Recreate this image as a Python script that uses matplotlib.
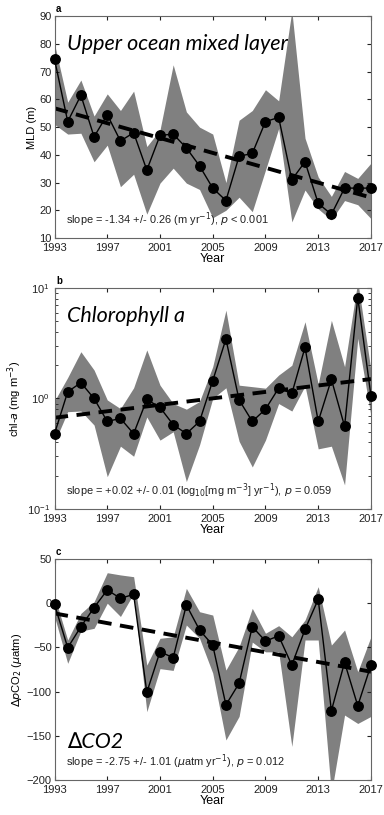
import numpy as np
import matplotlib
matplotlib.use("Agg")
import matplotlib.pyplot as plt

plt.rcParams['font.family'] = ['Liberation Sans', 'DejaVu Sans']

years = list(range(1993, 2018))
xticks = [1993, 1997, 2001, 2005, 2009, 2013, 2017]

# a: mixed layer depth (m)
mld = [74.5, 52, 61.5, 46.5, 54.5, 45, 48, 34.5, 47, 47.5, 42.5, 36, 28,
       23.5, 39.5, 40.5, 52, 53.5, 31, 37.5, 22.5, 18.5, 28, 28, 28]
mld_hi = [80, 59, 67, 54, 62, 56, 63, 43, 49, 72.5, 55.5, 50, 47.5,
          30, 52.5, 56, 63.5, 59.5, 92, 46, 32, 25, 34, 31.5, 37]
mld_lo = [51, 47.5, 47.8, 37.5, 43.5, 28.5, 33, 18.6, 29.8, 35.2, 29.8, 27.5, 17.3,
          20, 24.7, 19.5, 34.5, 49.5, 15.8, 27.3, 20.5, 16.5, 23.5, 22, 17]
mld_trend = [56.8, 24.6]

# b: chlorophyll a (mg m-3)
chl = [0.48, 1.15, 1.39, 1.0, 0.62, 0.66, 0.48, 0.98, 0.83, 0.58, 0.48, 0.62, 1.45,
       3.45, 0.97, 0.62, 0.80, 1.24, 1.11, 2.9, 0.62, 1.49, 0.56, 8.2, 1.06]
chl_hi = [0.95, 1.55, 2.65, 1.81, 0.97, 0.81, 1.25, 2.75, 1.32, 0.9, 0.8, 0.94, 1.94,
          6.3, 1.32, 1.28, 1.24, 1.63, 2.0, 4.95, 1.35, 5.1, 1.94, 11.5, 1.8]
chl_lo = [0.4, 0.76, 0.77, 0.575, 0.196, 0.37, 0.30, 0.68, 0.42, 0.5, 0.177, 0.38, 1.0,
          1.25, 0.41, 0.24, 0.42, 0.9, 0.77, 1.3, 0.35, 0.37, 0.165, 3.5, 0.7]
chl_trend = [0.67, 1.5]

# c: delta pCO2 (uatm)
dpco2 = [-1.3, -50.3, -26.6, -5, 15, 5.5, 10, -100.8, -54.9, -61.6, -2, -30.3, -47.5,
         -115, -90.6, -26.6, -42.8, -37, -70, -29.6, 4.4, -121.6, -66.9, -116, -70]
dpco2_hi = [8, -41.6, -11.5, 1.7, 34.5, 32, 30, -70, -39.7, -38, 16.8, -9.6, -13.4,
            -75.6, -49.2, -5.8, -34, -25.4, -38, -19, 18.7, -47.3, -30.3, -77.5, -38]
dpco2_lo = [-15, -68, -31.5, -28.4, 0, -15, 11, -122.7, -74, -76, -24.7, -39.7, -79,
            -154.7, -128, -44, -55, -55, -162, -41.6, -41.6, -215, -126.5, -136, -128]
dpco2_trend = [-11.5, -77.5]

panels = [
    dict(y=mld, hi=mld_hi, lo=mld_lo, trend=mld_trend, ylim=(10, 90),
         ylabel='MLD (m)', letter='a', name='Upper ocean mixed layer', name_y=0.875,
         slope='slope = -1.34 +/- 0.26 (m yr$^{-1}$), $p$ < 0.001',
         rect=[0.142, 0.708, 0.824, 0.272]),
    dict(y=chl, hi=chl_hi, lo=chl_lo, trend=chl_trend, ylim=(0.1, 10),
         ylabel='chl-$a$ (mg m$^{-3}$)', letter='b', name='Chlorophyll a', name_y=0.875,
         slope='slope = +0.02 +/- 0.01 (log$_{10}$[mg m$^{-3}$] yr$^{-1}$), $p$ = 0.059',
         rect=[0.142, 0.3755, 0.824, 0.2711], log=True),
    dict(y=dpco2, hi=dpco2_hi, lo=dpco2_lo, trend=dpco2_trend, ylim=(-200, 50),
         ylabel='$\\Delta p$CO$_2$ ($\\mu$atm)', letter='c', name='\u2206CO2', name_y=0.17,
         slope='slope = -2.75 +/- 1.01 ($\\mu$atm yr$^{-1}$), $p$ = 0.012',
         rect=[0.142, 0.0429, 0.824, 0.2712]),
]

fig = plt.figure(figsize=(3.84, 8.15), dpi=100)

for p in panels:
    ax = fig.add_axes(p['rect'])
    if p.get('log'):
        ax.set_yscale('log')
    ax.fill_between(years, p['lo'], p['hi'], color='#808080', lw=0, zorder=1)
    ax.plot([years[0], years[-1]], p['trend'], color='black', lw=2.8,
            dashes=(3.5, 2.2), zorder=2)
    ax.plot(years, p['y'], color='black', lw=1, marker='o', ms=6.8, zorder=3,
            clip_on=False)
    ax.set_xlim(1993, 2017)
    ax.set_ylim(*p['ylim'])
    ax.set_xticks(xticks)
    if not p.get('log'):
        step = 10 if p['letter'] == 'a' else 50
        ax.set_yticks(np.arange(p['ylim'][0], p['ylim'][1] + 1, step))
    ax.tick_params(direction='in', which='both', top=True, right=True,
                   labelsize=8, length=3, pad=2, colors='#222222')
    ax.tick_params(axis='x', pad=3.5)
    if p.get('log'):
        ax.tick_params(axis='y', pad=3.5)
    ax.tick_params(which='minor', length=2)
    for s in ax.spines.values():
        s.set_color('#666666')
        s.set_linewidth(0.8)
    ax.set_xlabel('Year', fontsize=9, labelpad=0)
    ax.set_ylabel(p['ylabel'], fontsize=8, labelpad=2)
    ax.text(0.04, p['name_y'], p['name'], transform=ax.transAxes,
            fontsize=15.5, style='italic', family=['Lato', 'DejaVu Sans'],
            va='center', ha='left')
    ax.text(0.036, 0.04, p['slope'], transform=ax.transAxes,
            fontsize=7.9, va='bottom', ha='left', color='#222222')
    ax.text(0.005, 1.01, p['letter'], transform=ax.transAxes,
            fontsize=7, weight='bold', va='bottom', ha='left')

fig.savefig('out.png', dpi=100)
